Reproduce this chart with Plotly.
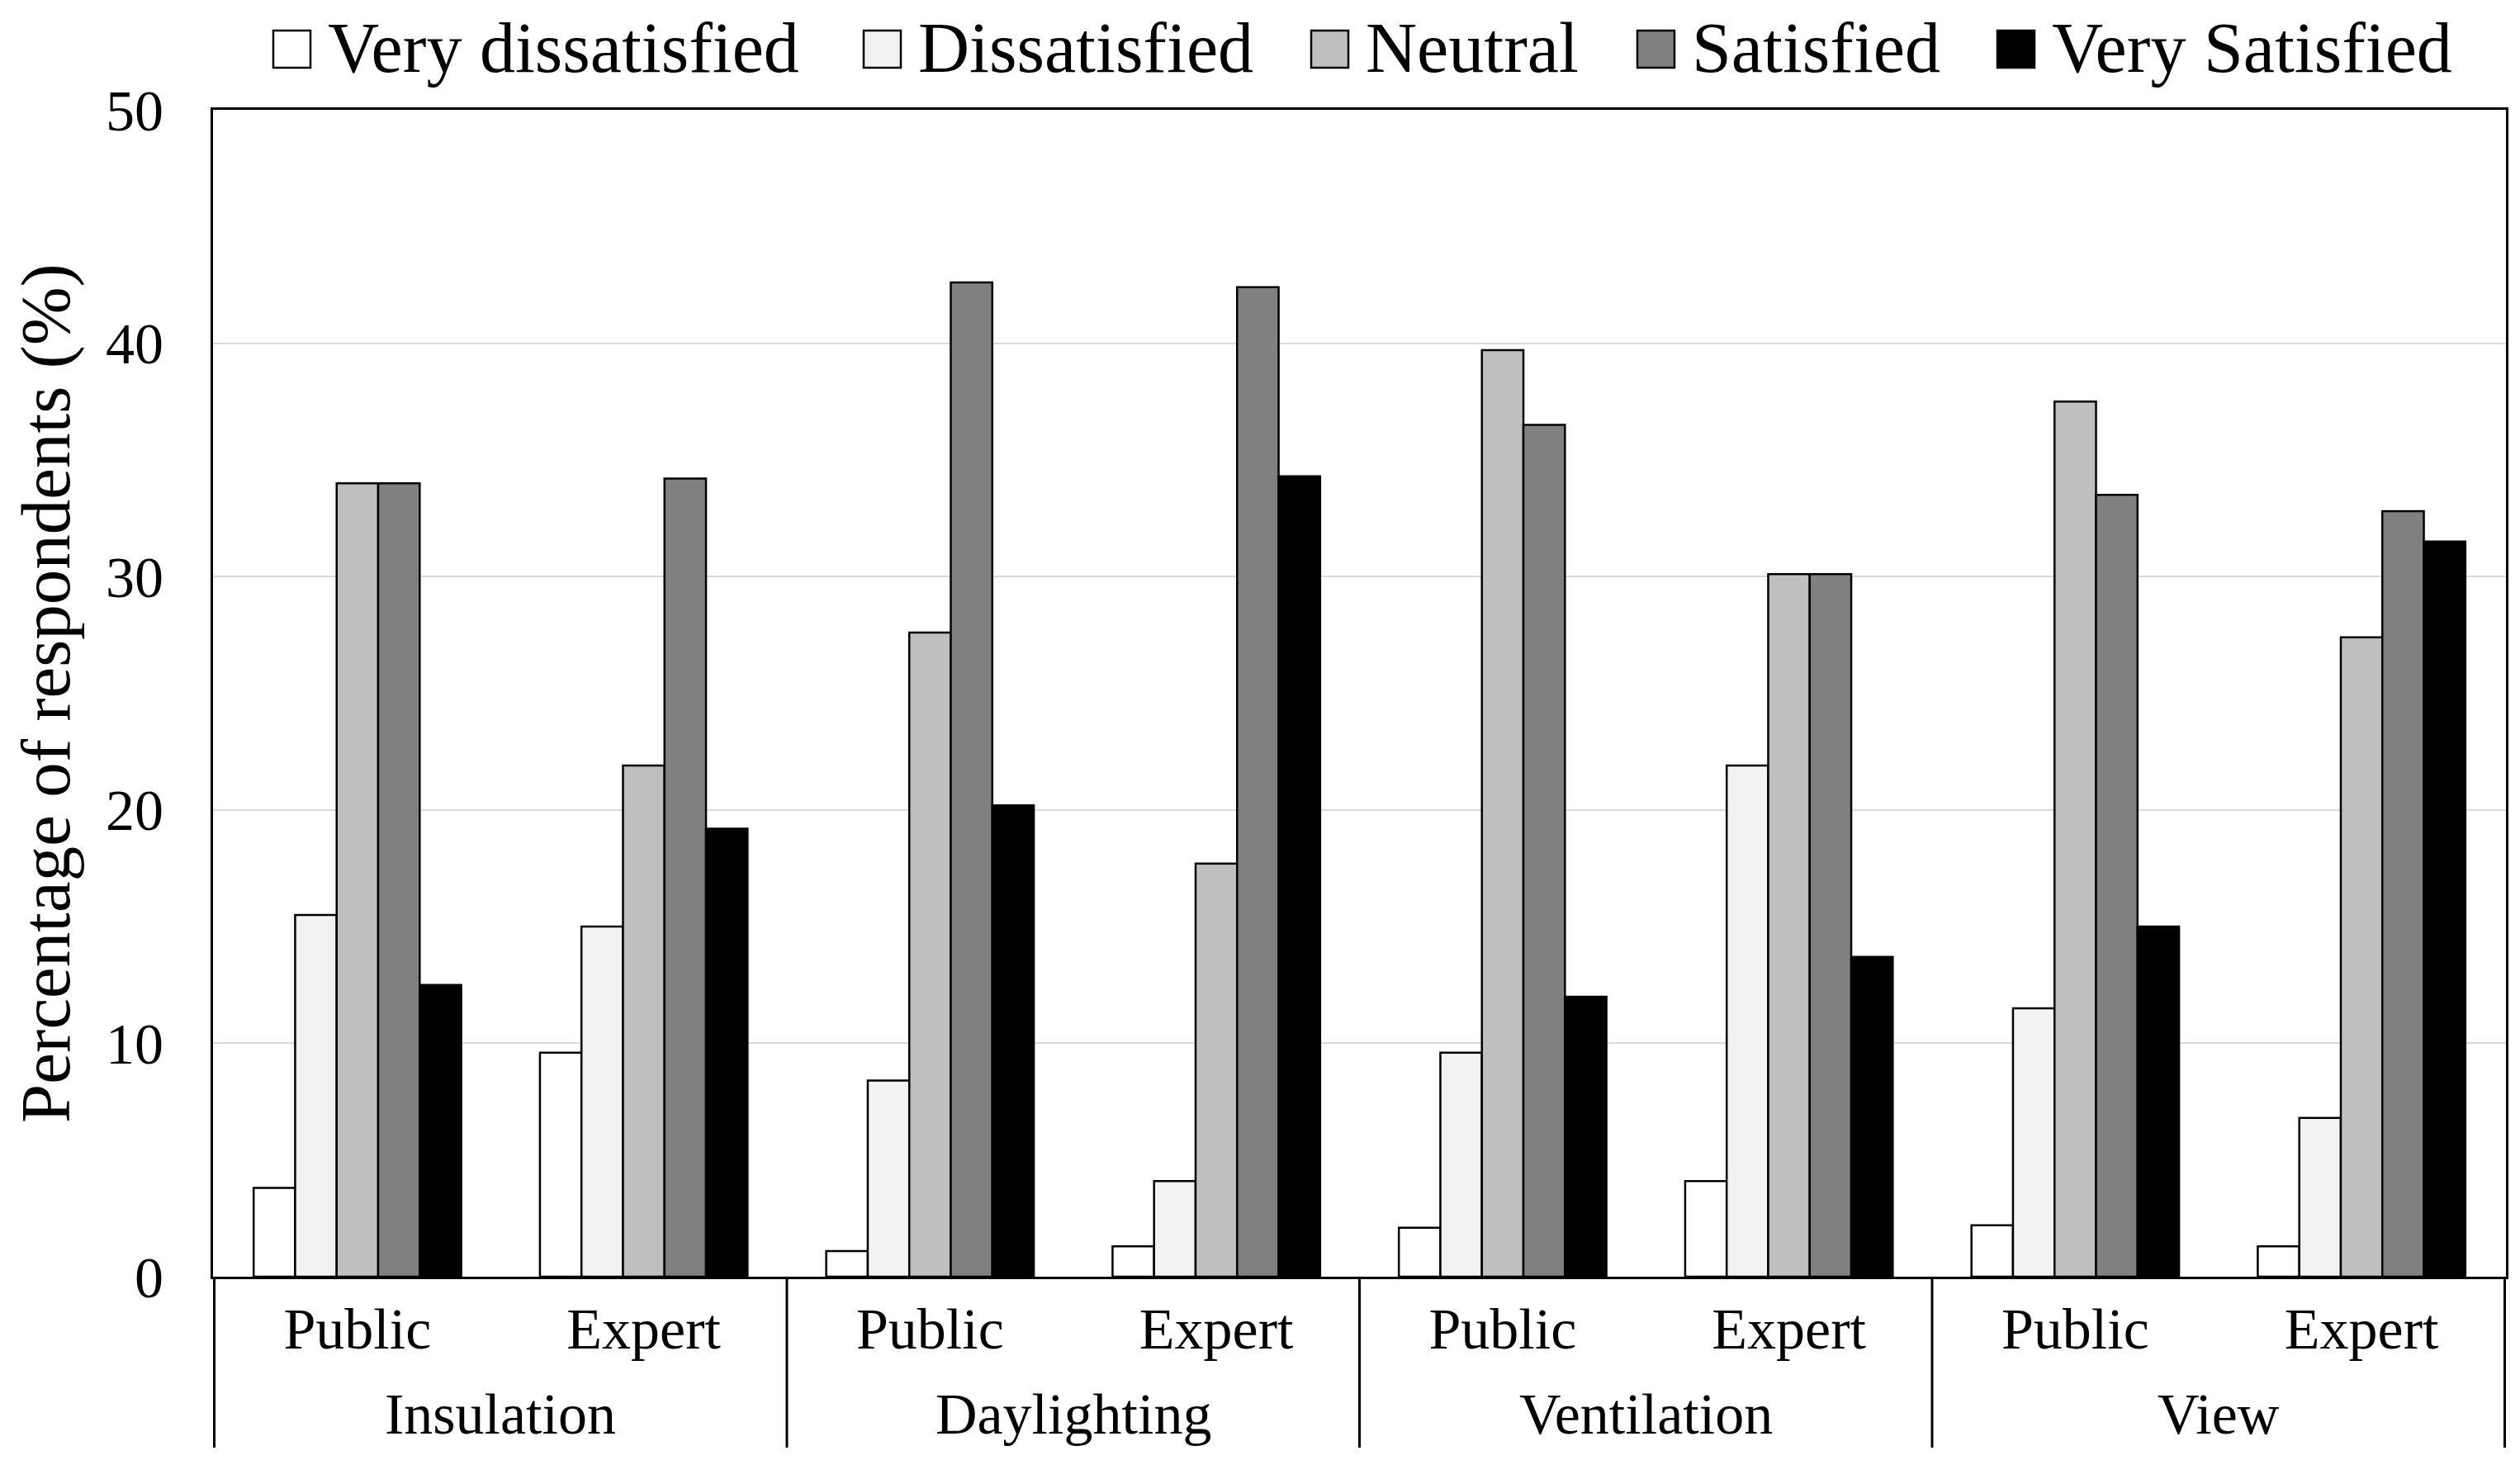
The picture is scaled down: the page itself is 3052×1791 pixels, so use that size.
import plotly.graph_objects as go

groups = ["Insulation", "Daylighting", "Ventilation", "View"]
respondents = ["Public", "Expert"]
levels = ["Very dissatisfied", "Dissatisfied", "Neutral", "Satisfied", "Very Satisfied"]
colors = ["#FFFFFF", "#F2F2F2", "#BFBFBF", "#808080", "#000000"]

# values per level, ordered: Insulation Public, Insulation Expert, Daylighting Public, ...
very_dissatisfied = [3.8, 9.6, 1.1, 1.3, 2.1, 4.1, 2.2, 1.3]
dissatisfied = [15.5, 15.0, 8.4, 4.1, 9.6, 21.9, 11.5, 6.8]
neutral = [34.0, 21.9, 27.6, 17.7, 39.7, 30.1, 37.5, 27.4]
satisfied = [34.0, 34.2, 42.6, 42.4, 36.5, 30.1, 33.5, 32.8]
very_satisfied = [12.5, 19.2, 20.2, 34.3, 12.0, 13.7, 15.0, 31.5]

series = [very_dissatisfied, dissatisfied, neutral, satisfied, very_satisfied]

outer = [g for g in groups for _ in respondents]
inner = [r for _ in groups for r in respondents]
xcats = [f"{g} {r}" for g, r in zip(outer, inner)]

FONT = "Liberation Serif"
W, H = 3052, 1791
ML, MR, MT, MB = 250, 25, 125, 253
PW, PH = W - ML - MR, H - MT - MB


def px_x(px):
    return (px - ML) / PW


def px_y(py):
    return (H - MB - py) / PH


fig = go.Figure()
for name, vals, col in zip(levels, series, colors):
    fig.add_trace(go.Bar(
        x=xcats, y=vals, name=name, showlegend=False,
        marker=dict(color=col, line=dict(color="#000000", width=2.5)),
    ))

shapes = []
annotations = []

# group dividers below the x axis
for i in range(len(groups) + 1):
    xb = i * len(respondents) - 0.5
    shapes.append(dict(type="line", xref="x", yref="paper", x0=xb, x1=xb,
                       y0=0, y1=px_y(1745), line=dict(color="black", width=3)))
# group labels
for i, g in enumerate(groups):
    annotations.append(dict(text=g, xref="x", yref="paper",
                            x=i * len(respondents) + (len(respondents) - 1) / 2,
                            y=px_y(1705), xanchor="center", yanchor="middle",
                            showarrow=False,
                            font=dict(family=FONT, size=70, color="black")))

# legend (drawn manually so the swatches match the original size)
legend_x = [323, 1038, 1580, 1975, 2411]
sw = 45
for lx, name, col in zip(legend_x, levels, colors):
    shapes.append(dict(type="rect", xref="paper", yref="paper",
                       x0=px_x(lx), x1=px_x(lx + sw), y0=px_y(74), y1=px_y(29),
                       fillcolor=col, line=dict(color="black", width=2.5)))
    annotations.append(dict(text=name, xref="paper", yref="paper",
                            x=px_x(lx + sw + 19), y=px_y(50),
                            xanchor="left", yanchor="middle", showarrow=False,
                            font=dict(family=FONT, size=86, color="black")))

fig.update_layout(
    width=W, height=H,
    barmode="group", bargap=0.275, bargroupgap=0,
    plot_bgcolor="white", paper_bgcolor="white",
    margin=dict(l=ML, r=MR, t=MT, b=MB, autoexpand=False),
    font=dict(family=FONT, size=70, color="black"),
    showlegend=False,
    shapes=shapes, annotations=annotations,
)
fig.update_yaxes(
    range=[0, 50], dtick=10, showgrid=True, gridcolor="#D9D9D9", gridwidth=2,
    showline=True, linecolor="black", linewidth=3, mirror=True,
    ticks="", ticklabelstandoff=43,
    tickfont=dict(family=FONT, size=70, color="black"),
    title=dict(text="Percentage of respondents (%)", standoff=36,
               font=dict(family=FONT, size=85, color="black")),
    zeroline=False,
)
fig.update_xaxes(
    type="category", categoryorder="array", categoryarray=xcats,
    tickvals=xcats, ticktext=inner,
    showline=True, linecolor="black", linewidth=3, mirror=True,
    tickfont=dict(family=FONT, size=70, color="black"), ticks="",
)
fig.write_html("out.html")
